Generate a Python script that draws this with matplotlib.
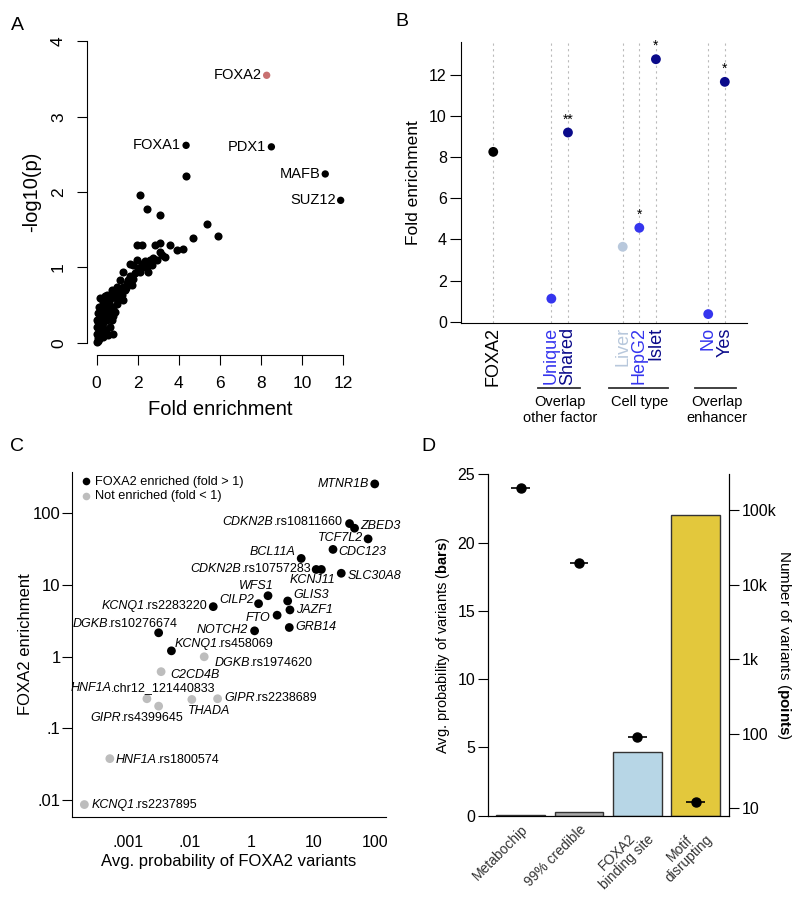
import numpy as np
import matplotlib
matplotlib.use("Agg")
import matplotlib.pyplot as plt
import matplotlib.transforms as mtransforms
from matplotlib.offsetbox import TextArea, HPacker, AnnotationBbox

plt.rcParams['font.family'] = ['Liberation Sans', 'DejaVu Sans']
plt.rcParams['mathtext.fontset'] = 'custom'
plt.rcParams['mathtext.rm'] = 'Liberation Sans'
plt.rcParams['mathtext.it'] = 'Liberation Sans:italic'
plt.rcParams['mathtext.bf'] = 'Liberation Sans:bold'

# ---- panel A data: fold enrichment vs -log10(p)
a_fold = [0.00, 0.08, 0.00, 0.13, 0.00, 0.19, 0.08, 0.29, 0.16, 0.36, 0.24, 0.45, 0.13, 0.32,
          0.52, 0.16, 0.40, 0.29, 0.61, 0.48, 0.68, 0.57, 0.45, 0.32, 0.65, 0.73, 0.81, 0.89,
          0.81, 0.97, 0.94, 1.05, 1.13, 1.26, 1.21, 1.38, 1.46, 1.54, 1.62, 1.70, 1.78, 1.86,
          1.78, 1.94, 2.03, 2.11, 2.19, 2.27, 2.35, 2.43, 2.51, 2.59, 2.67, 2.76, 2.92, 3.08,
          3.16, 3.32, 1.30, 1.62, 1.13, 0.97, 0.81, 0.73, 1.30, 0.65, 0.48, 0.32, 0.81, 0.05,
          0.10, 0.02, 0.05, 0.10, 0.20, 0.25, 0.55, 1.00, 1.45, 1.94, 2.19, 2.84, 3.08, 3.57,
          3.89, 4.22, 4.70, 5.35, 5.92, 2.43, 3.08, 2.10, 4.35]
a_logp = [0.01, 0.06, 0.12, 0.15, 0.21, 0.21, 0.28, 0.26, 0.35, 0.32, 0.41, 0.39, 0.48, 0.50,
          0.46, 0.60, 0.62, 0.54, 0.54, 0.63, 0.59, 0.10, 0.15, 0.08, 0.21, 0.30, 0.35, 0.41,
          0.48, 0.52, 0.65, 0.59, 0.68, 0.74, 0.63, 0.70, 0.79, 0.83, 0.88, 0.76, 0.85, 0.92,
          1.03, 1.10, 0.99, 0.94, 1.05, 1.01, 1.08, 1.01, 0.94, 1.10, 1.03, 1.12, 1.10, 1.21,
          1.16, 1.14, 0.94, 1.05, 0.83, 0.74, 0.65, 0.70, 0.57, 0.43, 0.30, 0.19, 0.12, 0.02,
          0.05, 0.30, 0.40, 0.25, 0.10, 0.18, 0.36, 0.58, 0.73, 1.30, 1.30, 1.30, 1.32, 1.30,
          1.23, 1.24, 1.39, 1.58, 1.41, 1.78, 1.70, 1.96, 2.21]
a_named = ['FOXA2', 'FOXA1', 'PDX1', 'MAFB', 'SUZ12']
a_named_fold = [8.27, 4.35, 8.50, 11.12, 11.87]
a_named_logp = [3.55, 2.62, 2.60, 2.24, 1.89]

# ---- panel B data
b_labels = ['FOXA2', 'Unique', 'Shared', 'Liver', 'HepG2', 'Islet', 'No', 'Yes']
b_values = [8.25, 1.12, 9.19, 3.64, 4.56, 12.75, 0.37, 11.65]
b_stars = ['', '', '**', '', '*', '*', '', '*']
b_groups = ['Overlap\nother factor', 'Cell type', 'Overlap\nenhancer']

# ---- panel C data
c_genes = ['MTNR1B', 'CDKN2B', 'ZBED3', 'TCF7L2', 'CDC123', 'BCL11A', 'CDKN2B', 'KCNJ11',
           'SLC30A8', 'WFS1', 'GLIS3', 'CILP2', 'KCNQ1', 'JAZF1', 'FTO', 'DGKB', 'NOTCH2',
           'GRB14', 'KCNQ1', 'DGKB', 'C2CD4B', 'HNF1A', 'THADA', 'GIPR', 'GIPR', 'HNF1A', 'KCNQ1']
c_snps = ['', '.rs10811660', '', '', '', '', '.rs10757283', '', '', '', '', '', '.rs2283220',
          '', '', '.rs10276674', '', '', '.rs458069', '.rs1974620', '', '.chr12_121440833', '',
          '.rs2238689', '.rs4399645', '.rs1800574', '.rs2237895']
c_prob = [100, 39, 47, 78, 21, 6.4, 11.2, 13.6, 28.6, 1.85, 3.86, 1.3, 0.057, 4.2, 2.6, 0.0031,
          1.12, 4.1, 0.005, 0.029, 0.0034, 0.002, 0.0115, 0.079, 0.0031, 0.0005, 0.000193]
c_enrich = [257, 72, 62, 44, 31.4, 23.5, 16.5, 16.5, 14.6, 7.1, 6.0, 5.5, 5.0, 4.5, 3.8, 2.16,
            2.3, 2.56, 1.21, 1.0, 0.62, 0.26, 0.254, 0.26, 0.205, 0.038, 0.0087]

# ---- panel D data
d_cats = ['Metabochip', '99% credible', 'FOXA2\nbinding site', 'Motif\ndisrupting']
d_prob = [0.03, 0.24, 4.69, 22.05]
d_count = [200000, 19500, 89, 11.9]

fig = plt.figure(figsize=(8, 8.97), dpi=100)

# ================= A
ax = fig.add_axes([0.1085, 0.6045, 0.333, 0.3628])
ax.scatter(a_fold, a_logp, s=34, color='black', linewidths=0, zorder=3)
cols = ['#c87070', 'black', 'black', 'black', 'black']
ax.scatter(a_named_fold, a_named_logp, s=28, color=cols, linewidths=0, zorder=3)
for n, xx, yy in zip(a_named, a_named_fold, a_named_logp):
    ax.annotate(n, (xx, yy), xytext=(-5, 0), textcoords='offset pixels',
                ha='right', va='center', fontsize=10.5)
ax.set_xlim(-0.48, 12.48)
ax.set_ylim(-0.16, 4.16)
for s in ['top', 'right']:
    ax.spines[s].set_visible(False)
ax.spines['bottom'].set_bounds(0, 12)
ax.spines['left'].set_bounds(0, 4)
ax.set_xticks(range(0, 13, 2))
ax.set_yticks(range(0, 5))
ax.tick_params(labelsize=12.5, length=7, pad=8)
for t in ax.get_yticklabels():
    t.set_rotation(90)
    t.set_va('center')
ax.set_xlabel('Fold enrichment', fontsize=14.5, labelpad=7)
ax.set_ylabel('-log10(p)', fontsize=14.5, labelpad=7)

# ================= B
ax = fig.add_axes([0.5759, 0.6399, 0.3575, 0.3136])
xpos = [0, 3.5, 4.5, 7.8, 8.8, 9.8, 12.95, 13.95]
bcols = ['black', '#3535ee', '#0a0a8a', '#b8c8dc', '#3535ee', '#0a0a8a', '#3535ee', '#0a0a8a']
for xp in xpos:
    ax.axvline(xp, color='#bbbbbb', lw=0.8, ls=(0, (2, 3)), zorder=1)
ax.scatter(xpos, b_values, s=50, color=bcols, linewidths=0, zorder=3)
for xp, v, st in zip(xpos, b_values, b_stars):
    if st:
        ax.text(xp, v + 0.3, st, ha='center', va='bottom', fontsize=10)
ax.set_xlim(-1.96, 15.27)
ax.set_ylim(-0.063, 13.6)
for s in ['top', 'right']:
    ax.spines[s].set_visible(False)
ax.set_yticks(range(0, 13, 2))
ax.tick_params(axis='y', labelsize=11.5, length=8, pad=2)
ax.set_xticks(xpos)
ax.set_xticklabels(b_labels, rotation=90, fontsize=13)
ax.tick_params(axis='x', length=0, pad=3)
for t, c in zip(ax.get_xticklabels(), bcols):
    t.set_color(c)
ax.set_ylabel('Fold enrichment', fontsize=12.5, labelpad=6)
tr = mtransforms.blended_transform_factory(ax.transData, ax.transAxes)
spans = [(xpos[1], xpos[2]), (xpos[3], xpos[5]), (xpos[6], xpos[7])]
for (x0, x1), g in zip(spans, b_groups):
    ax.plot([x0 - 0.8, x1 + 0.7], [-0.231, -0.231], color='#333333', lw=1.3,
            transform=tr, clip_on=False)
    ax.text((x0 + x1) / 2, -0.255, g, ha='center', va='top', fontsize=10.5,
            transform=tr, linespacing=1.2)

# ================= C
def fwd(v):
    lv = np.log10(np.clip(np.asarray(v, dtype=float), 1e-12, None))
    return np.where(lv <= -2, lv + 3, np.where(lv >= 0, lv + 2, 1 + (lv + 2) / 2))


def inv(t):
    t = np.asarray(t, dtype=float)
    return np.where(t <= 1, 10 ** (t - 3), np.where(t >= 2, 10 ** (t - 2), 10 ** (2 * (t - 1) - 2)))


ax = fig.add_axes([0.0904, 0.0895, 0.3918, 0.3846])
ax.set_xscale('function', functions=(fwd, inv))
ax.set_yscale('log')
ccols = ['black' if e > 1 else '#bdbdbd' for e in c_enrich]
ax.scatter(c_prob, c_enrich, s=40, color=ccols, linewidths=0, zorder=3, clip_on=False)
offs = [(-6, 0, 'right'), (-7, 2, 'right'), (6, 2, 'left'), (-5, 1, 'right'), (5, -3, 'left'),
        (-6, 6, 'right'), (-5, 0, 'right'), (14, -11, 'right'), (6, -3, 'left'), (6, 10, 'right'),
        (6, 6, 'left'), (-4, 4, 'right'), (-6, 1, 'right'), (6, 0, 'left'), (-7, -3, 'right'),
        (19, 9, 'right'), (-7, 1, 'right'), (6, 0, 'left'), (3, 7, 'left'), (10, -6, 'left'),
        (9, -3, 'left'), (-4, 11, 'center'), (17, -12, 'center'), (7, 1, 'left'),
        (-22, -12, 'center'), (6, -1, 'left'), (7, 0, 'left')]
align = {'left': 0.0, 'center': 0.5, 'right': 1.0}
for g, sn, xx, yy, (dx, dy, ha) in zip(c_genes, c_snps, c_prob, c_enrich, offs):
    parts = [TextArea(g, textprops=dict(fontsize=9, fontstyle='italic'))]
    if sn:
        parts.append(TextArea(sn, textprops=dict(fontsize=9)))
    box = HPacker(children=parts, pad=0, sep=0, align='baseline')
    ab = AnnotationBbox(box, (xx, yy), xybox=(dx * 0.72, dy * 0.72), boxcoords='offset points',
                        box_alignment=(align[ha], 0.5), frameon=False, pad=0)
    ax.add_artist(ab)
ax.set_xlim(1.23e-4, 151)
ax.set_ylim(10 ** -2.23, 10 ** 2.58)
for s in ['top', 'right']:
    ax.spines[s].set_visible(False)
ax.set_xticks([0.001, 0.01, 1, 10, 100])
ax.set_xticklabels(['.001', '.01', '1', '10', '100'])
ax.set_yticks([0.01, 0.1, 1, 10, 100])
ax.set_yticklabels(['.01', '.1', '1', '10', '100'])
ax.minorticks_off()
ax.tick_params(axis='y', labelsize=12, length=7, pad=1.5)
ax.tick_params(axis='x', labelsize=11.5, length=0, pad=13)
ax.set_xlabel('Avg. probability of FOXA2 variants', fontsize=12, labelpad=3)
ax.set_ylabel('FOXA2 enrichment', fontsize=12, labelpad=0)
h1 = ax.scatter([], [], s=30, color='black', linewidths=0)
h2 = ax.scatter([], [], s=30, color='#bdbdbd', linewidths=0)
ax.legend([h1, h2], ['FOXA2 enriched (fold > 1)', 'Not enriched (fold < 1)'],
          loc='upper left', bbox_to_anchor=(0.0, 1.015), frameon=False, fontsize=9.2,
          handlelength=0.8, handletextpad=0.3, labelspacing=0.2, borderpad=0.2)

# ================= D
ax = fig.add_axes([0.6096, 0.0906, 0.3016, 0.3806])
xd = np.arange(len(d_cats))
ax.bar(xd, d_prob, width=0.83, color=['white', '#a9a9a9', '#b7d6e6', '#e3c83c'],
       edgecolor='#333333', linewidth=1, zorder=2)
ax.set_xlim(-0.566, 3.57)
ax.set_ylim(0, 25)
ax.spines['top'].set_visible(False)
ax.set_yticks(range(0, 26, 5))
ax.tick_params(axis='y', labelsize=11.5, length=7, pad=2)
ax.set_xticks(xd)
ax.set_xticklabels(d_cats, rotation=45, ha='right', rotation_mode='anchor',
                   fontsize=10, color='#333333', multialignment='center', linespacing=1.0)
ax.tick_params(axis='x', length=0, pad=5)
ax.set_ylabel(r'Avg. probability of variants ($\mathbf{bars}$)', fontsize=10.5)
ax2 = ax.twinx()
ax2.set_yscale('log')
ax2.errorbar(xd, d_count, xerr=0.16, fmt='o', color='black', ms=6.5, elinewidth=1.2,
             capsize=0, zorder=4)
ax2.set_ylim(7.9, 302000)
ax2.spines['top'].set_visible(False)
ax2.set_yticks([10, 100, 1000, 10000, 100000])
ax2.set_yticklabels(['10', '100', '1k', '10k', '100k'])
ax2.minorticks_off()
ax2.tick_params(axis='y', labelsize=11.5, length=7, pad=2)
ax2.set_ylabel(r'Number of variants ($\mathbf{points}$)', fontsize=11, rotation=270,
               labelpad=12)

# panel letters
for lab, x, y in [('A', 17, 25), ('B', 402, 21), ('C', 17, 446), ('D', 428, 446)]:
    fig.text(x / 800, 1 - y / 897, lab, fontsize=14, ha='center', va='center')

fig.savefig('out.png', dpi=100)
